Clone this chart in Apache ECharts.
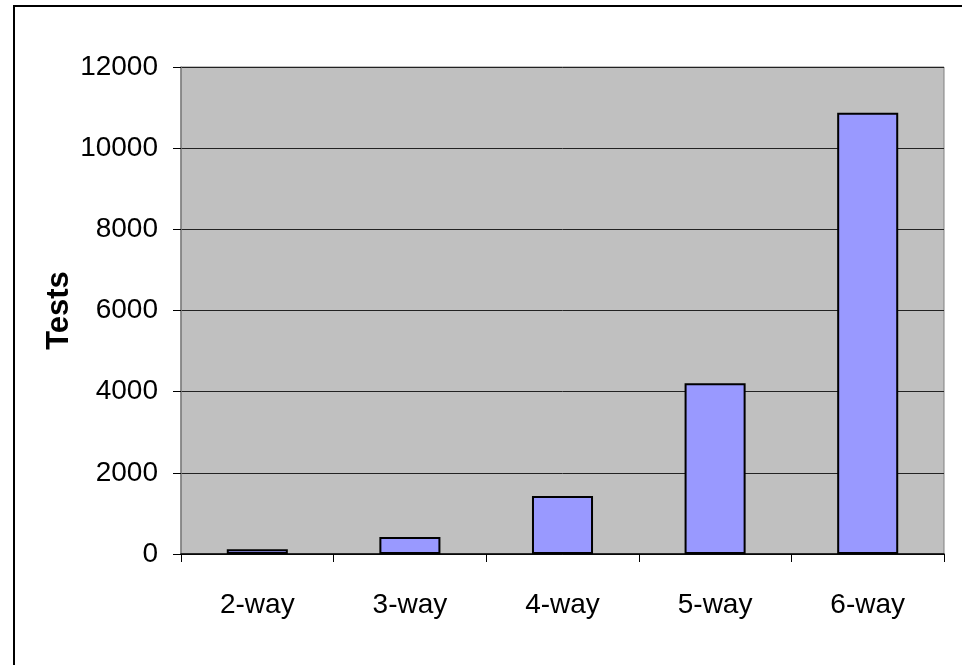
<!DOCTYPE html>
<html>
<head>
<meta charset="utf-8">
<script src="https://cdn.jsdelivr.net/npm/echarts@6/dist/echarts.min.js"></script>
<style>
  html, body { margin: 0; padding: 0; background: #fff; }
  #chart { width: 962px; height: 665px; }
</style>
</head>
<body>
<div id="chart"></div>
<script>
// data
const categories = ['2-way', '3-way', '4-way', '5-way', '6-way']
const tests = [120, 420, 1430, 4210, 10870]
const yMin = 0
const yMax = 12000
const yStep = 2000

const chart = echarts.init(document.getElementById('chart'), null, { renderer: 'canvas' })

const labelFont = 'Liberation Sans'

chart.setOption({
  animation: false,
  backgroundColor: '#ffffff',
  graphic: [
    {
      type: 'rect',
      shape: { x: 14, y: 6, width: 1000, height: 700 },
      style: { fill: 'none', stroke: '#000', lineWidth: 2 },
      z: 100
    }
  ],
  grid: {
    left: 181,
    right: 18,
    top: 67,
    bottom: 111,
    show: true,
    backgroundColor: '#c0c0c0',
    borderColor: '#808080',
    borderWidth: 1
  },
  xAxis: {
    type: 'category',
    data: categories,
    axisLine: { show: true, lineStyle: { color: '#000', width: 1.5 } },
    axisTick: { show: true, length: 8, lineStyle: { color: '#000' } },
    axisLabel: {
      margin: 37,
      color: '#000',
      fontFamily: labelFont,
      fontSize: 28
    },
    splitLine: { show: false }
  },
  yAxis: {
    type: 'value',
    min: yMin,
    max: yMax,
    interval: yStep,
    name: 'Tests',
    nameLocation: 'middle',
    nameRotate: 90,
    nameGap: 106,
    nameMoveOverlap: false,
    nameTextStyle: {
      color: '#000',
      fontFamily: 'Liberation Sans',
      fontWeight: 'bold',
      fontSize: 31
    },
    axisLine: { show: true, lineStyle: { color: '#808080', width: 1.5 } },
    axisTick: { show: true, length: 8, lineStyle: { color: '#000' } },
    axisLabel: {
      margin: 23,
      color: '#000',
      fontFamily: labelFont,
      fontSize: 28,
      formatter: v => String(v)
    },
    splitLine: { show: true, lineStyle: { color: '#222', width: 1 } }
  },
  series: [
    {
      name: 'Tests',
      type: 'bar',
      data: tests,
      barWidth: '40%',
      itemStyle: {
        color: '#9999ff',
        borderColor: '#000',
        borderWidth: 2
      }
    }
  ]
})
</script>
</body>
</html>
